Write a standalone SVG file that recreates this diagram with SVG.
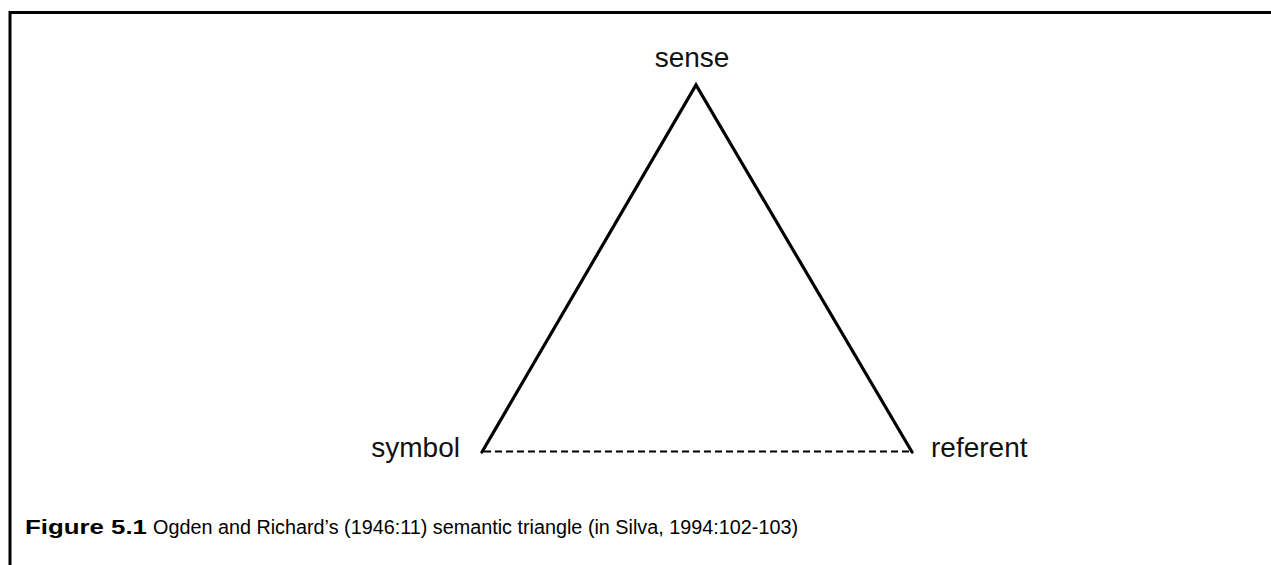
<svg xmlns="http://www.w3.org/2000/svg" width="1271" height="565" viewBox="0 0 1271 565">
<style>
.lbl{font-family:"Liberation Sans",Arial,sans-serif;font-size:28px;fill:#111}
.cap{font-family:"Liberation Sans",Arial,sans-serif;font-size:19.5px;fill:#000}
.side{stroke:#000;stroke-width:3.2;fill:none;stroke-linecap:round;stroke-linejoin:miter}
.dash{stroke:#000;stroke-width:2;fill:none;stroke-dasharray:7 4}
</style>
<rect width="1271" height="565" fill="#fff"/>
<path d="M10 565 V12.5 H1271" fill="none" stroke="#000" stroke-width="3"/>
<g id="connectors">
<path class="side" d="M482 452 L696 85 L912 452"/>
<path class="dash" d="M484 451.5 H910"/>
</g>
<g id="sense"><text class="lbl" x="692" y="67" text-anchor="middle">sense</text></g>
<g id="symbol"><text class="lbl" x="460" y="457" text-anchor="end">symbol</text></g>
<g id="referent"><text class="lbl" x="931" y="457">referent</text></g>
<g id="caption">
<text class="cap" x="25" y="534" font-weight="bold" font-size="21" textLength="122" lengthAdjust="spacingAndGlyphs">Figure 5.1</text>
<text class="cap" x="153" y="534" textLength="645" lengthAdjust="spacingAndGlyphs">Ogden and Richard’s (1946:11) semantic triangle (in Silva, 1994:102-103)</text>
</g>
</svg>
